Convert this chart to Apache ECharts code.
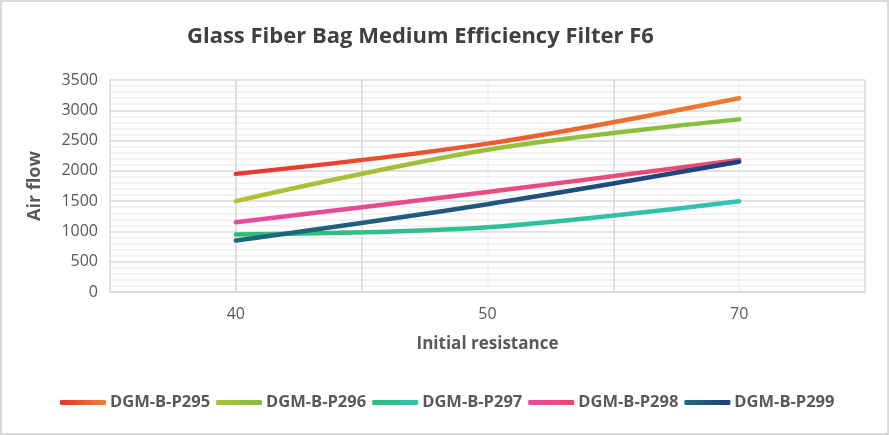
<!DOCTYPE html>
<html><head><meta charset="utf-8">
<script src="https://cdn.jsdelivr.net/npm/echarts@6/dist/echarts.min.js"></script>
<style>html,body{margin:0;padding:0;background:#fff}#c{width:889px;height:435px;box-sizing:border-box;border:2px solid #d9d9d9}</style>
</head><body><div id="c"></div>
<script>
var categories = ['40', '50', '70'];
var seriesNames = ['DGM-B-P295', 'DGM-B-P296', 'DGM-B-P297', 'DGM-B-P298', 'DGM-B-P299'];
var p295 = [1950, 2450, 3200];
var p296 = [1500, 2350, 2850];
var p297 = [950, 1070, 1500];
var p298 = [1150, 1650, 2180];
var p299 = [850, 1450, 2150];
var yTicks = [0, 500, 1000, 1500, 2000, 2500, 3000, 3500];
var gradients = [
  ['#e8352f', '#ef7f30'],
  ['#b3c035', '#80bf3f'],
  ['#2cbf77', '#33c1b6'],
  ['#e84aa0', '#e84b6b'],
  ['#1f6b7a', '#213f80']
];
var allData = [p295, p296, p297, p298, p299];
var chart = echarts.init(document.getElementById('c'));
var font = '"Open Sans", sans-serif';
function grad(g){ return new echarts.graphic.LinearGradient(0,0,1,0,[{offset:0,color:g[0]},{offset:1,color:g[1]}]); }
var series = seriesNames.map(function(n,i){
  return {
    name: n, type: 'line', smooth: 0.35, symbol: 'none',
    data: allData[i].map(function(v,j){ return [j, v]; }),
    lineStyle: { width: 4.5, color: grad(gradients[i]), cap: 'round' },
    itemStyle: { color: grad(gradients[i]) }
  };
});
chart.setOption({
  animation: false,
  title: { text: 'Glass Fiber Bag Medium Efficiency Filter F6', left: 180, top: 19,
    textStyle: { fontFamily: font, fontSize: 22, fontWeight: 'bold', color: '#404040' } },
  grid: { left: 108, top: 78, right: 22, bottom: 141, containLabel: false },
  legend: { bottom: 17, left: 53, itemGap: 6, itemWidth: 46, itemHeight: 5, icon: 'roundRect',
    textStyle: { fontFamily: font, fontSize: 16.5, fontWeight: 'bold', color: '#595959', padding: [0,0,0,-1] },
    data: seriesNames },
  xAxis: {
    type: 'value', min: -0.5, max: 2.5, interval: 0.5,
    name: 'Initial resistance', nameLocation: 'middle', nameGap: 44,
    nameTextStyle: { fontFamily: font, fontSize: 17, fontWeight: 'bold', color: '#595959' },
    axisLine: { show: true, lineStyle: { color: '#d9d9d9', width: 1.5 } },
    axisTick: { show: false },
    axisLabel: { fontFamily: font, fontSize: 16, color: '#595959', margin: 14,
      formatter: function(v){ return (Math.abs(v - Math.round(v)) < 1e-6 && v >= 0) ? categories[Math.round(v)] : ''; } },
    splitLine: { show: true, lineStyle: { color: ['#d9d9d9', '#f0f0f0'], width: 1.5 } }
  },
  yAxis: {
    type: 'value', min: 0, max: 3500, interval: 500,
    name: 'Air flow', nameLocation: 'middle', nameGap: 66, nameRotate: 90,
    nameTextStyle: { fontFamily: font, fontSize: 18, fontWeight: 'bold', color: '#595959' },
    axisLine: { show: true, lineStyle: { color: '#d9d9d9', width: 1.5 } },
    axisTick: { show: false },
    axisLabel: { fontFamily: font, fontSize: 16, color: '#595959', margin: 12,
      formatter: function(v){ return yTicks.indexOf(v) >= 0 ? String(v) : ''; } },
    splitLine: { show: true, lineStyle: { color: '#d9d9d9', width: 1.5 } },
    minorTick: { show: false, splitNumber: 5 },
    minorSplitLine: { show: true, lineStyle: { color: '#f0f0f0', width: 1.5 } }
  },
  series: series
});
</script></body></html>
